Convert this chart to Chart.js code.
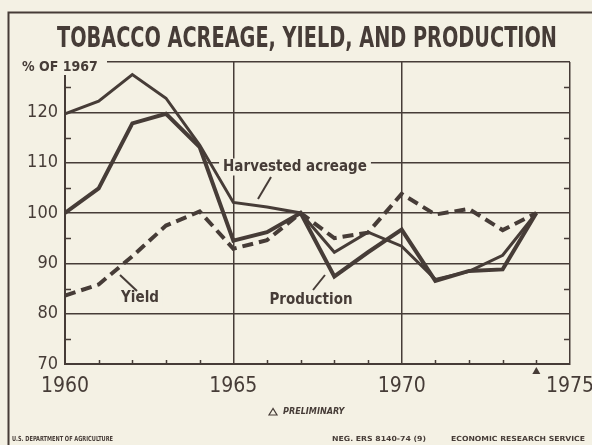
<!DOCTYPE html>
<html>
<head>
<meta charset="utf-8">
<script src="https://cdn.jsdelivr.net/npm/chart.js@4"></script>
<style>
  html, body { margin: 0; padding: 0; background: #f4f1e4; }
  #wrap { width: 592px; height: 445px; position: relative; }
</style>
</head>
<body>
<div id="wrap"><canvas id="c" width="592" height="445"></canvas></div>
<script>
// ---- data (percent of 1967) ----
const years = [1960, 1961, 1962, 1963, 1964, 1965, 1966, 1967, 1968, 1969, 1970, 1971, 1972, 1973, 1974];
const acreage = [119.7, 122.2, 127.5, 122.8, 113.5, 102.1, 101.2, 100, 92.2, 96.2, 93.4, 86.8, 88.4, 91.6, 100];
const production = [100, 104.9, 117.8, 119.7, 113.1, 94.5, 96.2, 100, 87.4, 92.2, 96.7, 86.5, 88.5, 88.8, 100];
const yieldPct = [83.6, 85.8, 91.4, 97.5, 100.3, 92.9, 94.6, 100, 95.0, 96.1, 103.8, 99.7, 100.8, 96.6, 100];
const xTickLabels = [1960, 1965, 1970, 1975];
const yTickLabels = [70, 80, 90, 100, 110, 120];
const preliminaryYear = 1974;

const INK = '#463c37';
const BG = '#f4f1e4';
const COND = '"DejaVu Sans Condensed", "Liberation Sans Narrow", "DejaVu Sans", sans-serif';

function pts(vals) { return years.map((y, i) => ({ x: y, y: vals[i] })); }

const decor = {
  id: 'decor',
  beforeDraw(chart) {
    const ctx = chart.ctx;
    ctx.save();
    ctx.fillStyle = BG;
    ctx.fillRect(0, 0, chart.width, chart.height);
    ctx.restore();
  },
  afterDraw(chart) {
    const ctx = chart.ctx;
    const a = chart.chartArea;
    const xs = chart.scales.x, ys = chart.scales.y;
    ctx.save();
    ctx.strokeStyle = INK;
    ctx.fillStyle = INK;

    // outer frame
    ctx.lineWidth = 2;
    ctx.beginPath();
    ctx.moveTo(8.5, chart.height);
    ctx.lineTo(8.5, 12.5);
    ctx.lineTo(chart.width, 12.5);
    ctx.stroke();

    // minor ticks inside the plot
    ctx.lineWidth = 1.5;
    ctx.beginPath();
    for (let v = 75; v < 130; v += 10) {
      const py = Math.round(ys.getPixelForValue(v)) + 0.5;
      ctx.moveTo(a.left, py); ctx.lineTo(a.left + 6, py);
      ctx.moveTo(a.right - 6, py); ctx.lineTo(a.right, py);
    }
    for (let yr = 1961; yr < 1975; yr++) {
      if (yr % 5 === 0) continue;
      const px = Math.round(xs.getPixelForValue(yr)) + 0.5;
      ctx.moveTo(px, a.bottom); ctx.lineTo(px, a.bottom - 4);
    }
    ctx.stroke();

    // preliminary marker
    const tx = xs.getPixelForValue(preliminaryYear);
    ctx.beginPath();
    ctx.moveTo(tx, a.bottom + 3);
    ctx.lineTo(tx - 4, a.bottom + 10);
    ctx.lineTo(tx + 4, a.bottom + 10);
    ctx.closePath();
    ctx.fill();

    // "% OF 1967" label with background clearing the frame
    ctx.fillStyle = BG;
    ctx.fillRect(16, 55, 91, 20);
    ctx.fillStyle = INK;
    ctx.font = 'bold 14px ' + COND;
    ctx.textBaseline = 'middle';
    ctx.textAlign = 'left';
    ctx.fillText('% OF 1967', 22, 67);

    // title
    ctx.font = 'bold 28px ' + COND;
    const title = 'TOBACCO ACREAGE, YIELD, AND PRODUCTION';
    const tw = ctx.measureText(title).width;
    const target = 500;
    ctx.save();
    ctx.translate(307, 40);
    ctx.scale(target / tw, 1);
    ctx.textAlign = 'center';
    ctx.fillText(title, 0, 0);
    ctx.restore();

    // series labels
    function label(text, cx, cy, size, lx1, ly1, lx2, ly2) {
      ctx.font = 'bold ' + size + 'px ' + COND;
      const w = ctx.measureText(text).width;
      ctx.fillStyle = BG;
      ctx.fillRect(cx - w / 2 - 4, cy - size / 2 - 1, w + 8, size + 2);
      ctx.fillStyle = INK;
      ctx.textAlign = 'center';
      ctx.textBaseline = 'middle';
      ctx.fillText(text, cx, cy);
      ctx.lineWidth = 2;
      ctx.beginPath();
      ctx.moveTo(lx1, ly1); ctx.lineTo(lx2, ly2);
      ctx.stroke();
    }
    label('Harvested acreage', 295, 167, 15, 271, 177, 258, 199);
    label('Production', 311, 300, 15, 325, 275, 313, 290);
    label('Yield', 140, 298, 15, 120, 275, 137, 291);

    // footnotes
    ctx.textBaseline = 'middle';
    ctx.textAlign = 'left';
    ctx.font = 'italic bold 9px ' + COND;
    ctx.lineWidth = 1.2;
    ctx.beginPath();
    ctx.moveTo(273, 408.5); ctx.lineTo(269, 415); ctx.lineTo(277, 415);
    ctx.closePath();
    ctx.stroke();
    ctx.fillText('PRELIMINARY', 283, 412);

    function fitText(text, x, y, w) {
      ctx.font = 'bold 7px ' + COND;
      const m = ctx.measureText(text).width;
      ctx.save();
      ctx.translate(x, y);
      ctx.scale(w / m, 1);
      ctx.fillText(text, 0, 0);
      ctx.restore();
    }
    fitText('U.S. DEPARTMENT OF AGRICULTURE', 12, 439, 101);
    fitText('NEG. ERS 8140-74 (9)', 332, 439, 94);
    fitText('ECONOMIC RESEARCH SERVICE', 451, 439, 134);
    ctx.restore();
  }
};

new Chart(document.getElementById('c'), {
  type: 'line',
  data: {
    datasets: [
      { label: 'Harvested acreage', data: pts(acreage), borderColor: INK, borderWidth: 3, pointRadius: 0, tension: 0, fill: false, borderJoinStyle: 'miter' },
      { label: 'Production', data: pts(production), borderColor: INK, borderWidth: 4, pointRadius: 0, tension: 0, fill: false, borderJoinStyle: 'miter' },
      { label: 'Yield', data: pts(yieldPct), borderColor: INK, borderWidth: 4, borderDash: [11, 6], pointRadius: 0, tension: 0, fill: false, borderJoinStyle: 'miter' }
    ]
  },
  options: {
    responsive: false,
    animation: false,
    layout: { padding: { left: 0, top: 62, right: 22, bottom: 0 } },
    plugins: { legend: { display: false }, title: { display: false }, tooltip: { enabled: false } },
    scales: {
      x: {
        type: 'linear', min: 1960, max: 1975,
        afterBuildTicks(s) { s.ticks = xTickLabels.map(v => ({ value: v })); },
        afterFit(s) { s.height = 81; s.paddingLeft = 0; s.paddingRight = 0; },
        ticks: {
          autoSkip: false, maxRotation: 0, padding: 10, color: INK,
          font: { family: COND, size: 21 },
          callback: v => String(v)
        },
        grid: { color: INK, lineWidth: 1.5, drawTicks: false },
        border: { display: true, color: INK, width: 2 }
      },
      y: {
        min: 70, max: 130,
        afterBuildTicks(s) { s.ticks = yTickLabels.concat([130]).map(v => ({ value: v })); },
        afterFit(s) { s.width = 65; },
        ticks: {
          padding: 7, color: INK,
          font: { family: COND, size: 18 },
          callback: v => (yTickLabels.includes(v) ? String(v) : '')
        },
        grid: { color: INK, lineWidth: 1.5, drawTicks: false },
        border: { display: true, color: INK, width: 2 }
      }
    }
  },
  plugins: [decor]
});
</script>
</body>
</html>
